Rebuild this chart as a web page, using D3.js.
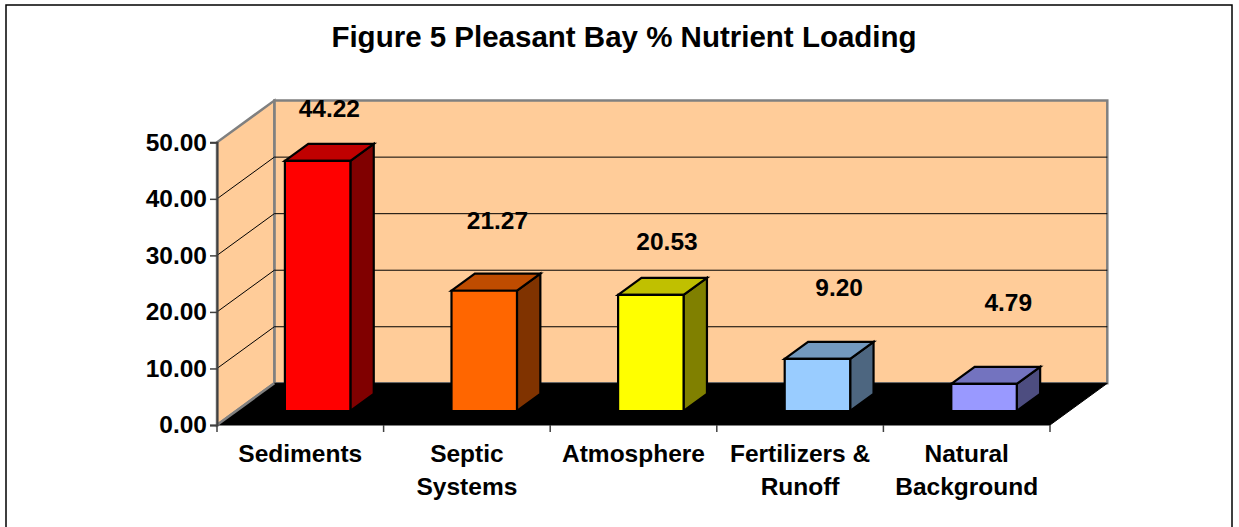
<!DOCTYPE html>
<html>
<head>
<meta charset="utf-8">
<script src="https://cdn.jsdelivr.net/npm/d3@7"></script>
<style>
  html, body { margin: 0; padding: 0; background: #ffffff; }
  svg { display: block; }
  text { font-family: "Liberation Sans", Arial, sans-serif; font-weight: bold; fill: #000; }
</style>
</head>
<body>
<svg id="chart" width="1239" height="527"></svg>
<script>
// ---------------- data ----------------
const title = "Figure 5 Pleasant Bay % Nutrient Loading";
const categories = ["Sediments", "Septic Systems", "Atmosphere", "Fertilizers & Runoff", "Natural Background"];
const categoryLines = [["Sediments"], ["Septic", "Systems"], ["Atmosphere"], ["Fertilizers &", "Runoff"], ["Natural", "Background"]];
const values = [44.22, 21.27, 20.53, 9.20, 4.79];
const yTicks = [0, 10, 20, 30, 40, 50];
const frontColors = ["#FF0000", "#FF6600", "#FFFF00", "#99CCFF", "#9999FF"];
const topColors   = ["#C00000", "#BF4C00", "#C0C000", "#7399BF", "#7373BF"];
const sideColors  = ["#800000", "#803300", "#808000", "#4D6680", "#4D4D80"];

// ---------------- layout ----------------
const svg = d3.select("#chart");
const X0 = 217, X1 = 1050;      // front plane x-extent
const DX = 57.3, DY = -41.7;    // full depth offset
const d0 = 0.336, d1 = 0.744;   // bar depth range (fraction)
const labelGap = [35, 53.5, 36.4, 54.5, 64.7];
const labelShift = [0, 1.5, 4.5, 10, 12.5];

const x = d3.scaleBand().domain(categories).range([X0, X1]).paddingInner(0).paddingOuter(0);
const y = d3.scaleLinear().domain([0, 50]).range([425, 142.3]);
const P = (px, v, d) => [px + d * DX, y(v) + d * DY];

// outer border
svg.append("rect").attr("x", 6).attr("y", 5).attr("width", 1226).attr("height", 540)
  .attr("fill", "none").attr("stroke", "#000").attr("stroke-width", 1.5);

// title
svg.append("text").attr("x", 624).attr("y", 47).attr("text-anchor", "middle")
  .style("font-size", "29.5px").text(title);

const line = d3.line();
const ymax = y.domain()[1];

// back wall
svg.append("path")
  .attr("d", line([P(X0, 0, 1), P(X1, 0, 1), P(X1, ymax, 1), P(X0, ymax, 1)]) + "Z")
  .attr("fill", "#FFCC99").attr("stroke", "#808080").attr("stroke-width", 2.5);
// side wall
svg.append("path")
  .attr("d", line([P(X0, 0, 0), P(X0, 0, 1), P(X0, ymax, 1), P(X0, ymax, 0)]) + "Z")
  .attr("fill", "#FFCC99").attr("stroke", "#808080").attr("stroke-width", 2.5);

// gridlines
const inner = yTicks.filter(t => t > 0 && t < ymax);
svg.append("g").selectAll("path").data(inner).join("path")
  .attr("d", t => line([P(X0, t, 0), P(X0, t, 1), P(X1, t, 1)]))
  .attr("fill", "none").attr("stroke", "#000").attr("stroke-width", 1);

// floor
svg.append("path")
  .attr("d", line([P(X0, 0, 0), P(X1, 0, 0), P(X1, 0, 1), P(X0, 0, 1)]) + "Z")
  .attr("fill", "#000").attr("stroke", "#000").attr("stroke-width", 1);
svg.append("path").attr("d", line([P(X0, 0, 0), P(X0, 0, 1)]))
  .attr("stroke", "#808080").attr("stroke-width", 2.5).attr("fill", "none");

// y axis
const yAxis = d3.axisLeft(y).tickValues(yTicks).tickFormat(d3.format(".2f")).tickSize(7).tickPadding(3);
const gy = svg.append("g").attr("transform", `translate(${X0},0)`).call(yAxis);
gy.select(".domain").attr("stroke", "#404040").attr("stroke-width", 2);
gy.selectAll(".tick line").attr("stroke", "#404040").attr("stroke-width", 1.5);
gy.selectAll(".tick text").style("font-size", "24.5px").style("font-family", '"Liberation Sans", Arial, sans-serif')
  .style("font-weight", "bold").attr("fill", "#000");

// x axis
const xAxis = d3.axisBottom(x).tickSize(7).tickFormat("");
const gx = svg.append("g").attr("transform", `translate(0,${y(0)})`).call(xAxis);
gx.select(".domain").remove();
gx.selectAll(".tick line").attr("stroke", "#404040").attr("stroke-width", 1.5)
  .attr("transform", `translate(${x.bandwidth() / 2},0)`);
gx.append("line").attr("x1", X0).attr("x2", X0).attr("y1", 0).attr("y2", 7)
  .attr("stroke", "#404040").attr("stroke-width", 1.5);

// category labels
categories.forEach((c, i) => {
  const t = svg.append("text").attr("text-anchor", "middle").style("font-size", "24.5px")
    .attr("x", x(c) + x.bandwidth() / 2).attr("y", 462);
  categoryLines[i].forEach((ln, k) => {
    t.append("tspan").attr("x", x(c) + x.bandwidth() / 2).attr("dy", k === 0 ? 0 : 33).text(ln);
  });
});

// bars
const bw = x.bandwidth() * 0.393;
const bOff = x.bandwidth() * 0.292;
const gb = svg.append("g");
categories.forEach((c, i) => {
  const v = values[i];
  const xl = x(c) + bOff, xr = xl + bw;
  const sty = sel => sel.attr("stroke", "#000").attr("stroke-width", 2.2).attr("stroke-linejoin", "miter");
  gb.append("path").attr("d", line([P(xr, 0, d0), P(xr, 0, d1), P(xr, v, d1), P(xr, v, d0)]) + "Z")
    .attr("fill", sideColors[i]).call(sty);
  gb.append("path").attr("d", line([P(xl, v, d0), P(xr, v, d0), P(xr, v, d1), P(xl, v, d1)]) + "Z")
    .attr("fill", topColors[i]).call(sty);
  gb.append("path").attr("d", line([P(xl, 0, d0), P(xr, 0, d0), P(xr, v, d0), P(xl, v, d0)]) + "Z")
    .attr("fill", frontColors[i]).call(sty);
  const tc = P((xl + xr) / 2, v, (d0 + d1) / 2);
  svg.append("text").attr("text-anchor", "middle").style("font-size", "24.5px")
    .attr("x", tc[0] + labelShift[i]).attr("y", tc[1] - labelGap[i])
    .text(d3.format(".2f")(v));
});
</script>
</body>
</html>
